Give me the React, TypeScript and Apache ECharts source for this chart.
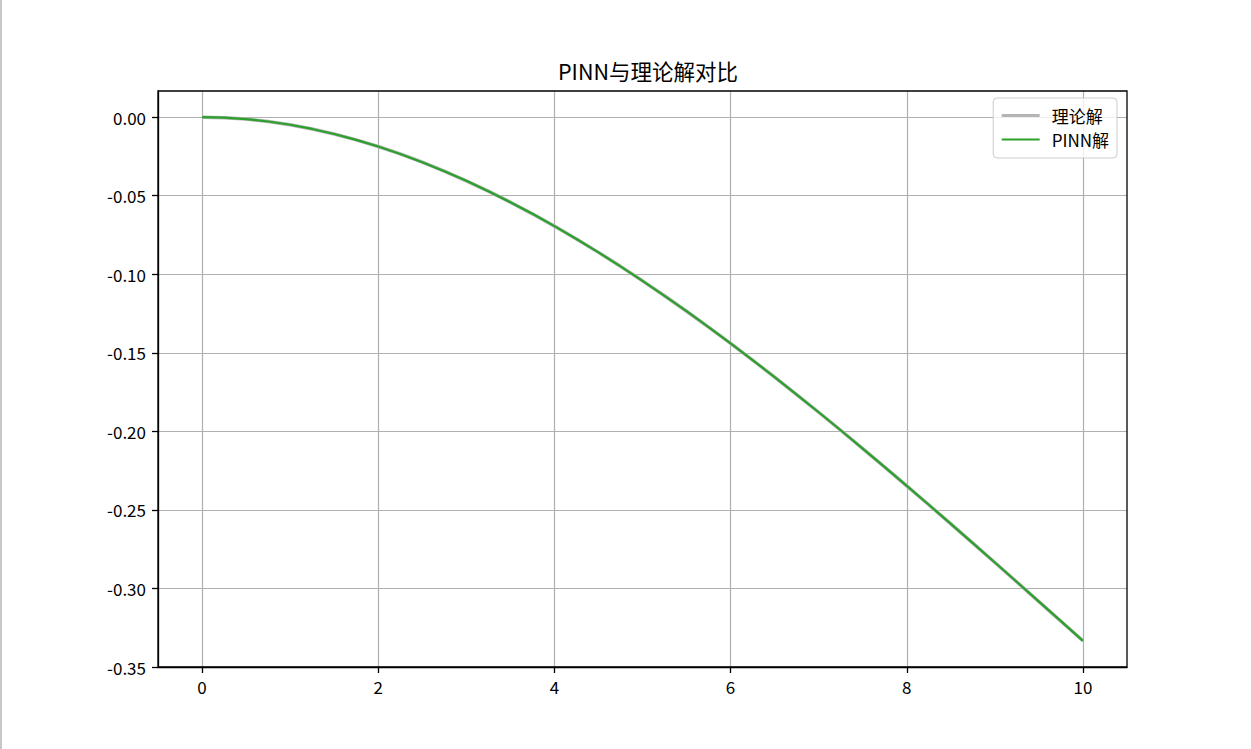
import React, { useEffect, useRef } from "react";
import * as echarts from "echarts";

const xValues = [
  0, 0.25, 0.5, 0.75, 1, 1.25, 1.5, 1.75, 2, 2.25, 2.5, 2.75, 3, 3.25, 3.5, 3.75, 4, 4.25, 4.5, 4.75,
  5, 5.25, 5.5, 5.75, 6, 6.25, 6.5, 6.75, 7, 7.25, 7.5, 7.75, 8, 8.25, 8.5, 8.75, 9, 9.25, 9.5, 9.75, 10,
];
const theoryValues = [
  0, -0.00031, -0.00123, -0.00274, -0.00483, -0.00749, -0.01069, -0.01442, -0.01867, -0.02341,
  -0.02865, -0.03435, -0.0405, -0.04709, -0.0541, -0.06152, -0.06933, -0.07752, -0.08606, -0.09495,
  -0.10417, -0.1137, -0.12352, -0.13363, -0.144, -0.15462, -0.16548, -0.17656, -0.18783, -0.1993,
  -0.21094, -0.22273, -0.23467, -0.24673, -0.2589, -0.27116, -0.2835, -0.2959, -0.30835, -0.32084, -0.33333,
];
const pinnValues = [
  0, -0.00031, -0.00123, -0.00274, -0.00483, -0.00749, -0.01069, -0.01442, -0.01867, -0.02341,
  -0.02865, -0.03435, -0.0405, -0.04709, -0.0541, -0.06152, -0.06933, -0.07752, -0.08606, -0.09495,
  -0.10417, -0.1137, -0.12352, -0.13363, -0.144, -0.15462, -0.16548, -0.17656, -0.18783, -0.1993,
  -0.21094, -0.22273, -0.23467, -0.24673, -0.2589, -0.27116, -0.2835, -0.2959, -0.30835, -0.32084, -0.33333,
];
const xTicks = [0, 2, 4, 6, 8, 10];
const yTicks = [-0.35, -0.3, -0.25, -0.2, -0.15, -0.1, -0.05, 0];
const seriesNames = ["理论解", "PINN解"];
const titleText = "PINN与理论解对比";

const FONT = "'Noto Sans CJK SC', 'Noto Sans', sans-serif";
const GRAY = "#b5b5b5";
const GREEN = "#2ca02c";

export default function App() {
  const ref = useRef<HTMLDivElement>(null);
  useEffect(() => {
    if (!ref.current) return;
    const chart = echarts.init(ref.current, null, { renderer: "svg" });
    chart.setOption({
      animation: false,
      backgroundColor: "#ffffff",
      title: {
        text: titleText,
        left: 643,
        textAlign: "center",
        top: 55,
        textStyle: { fontFamily: FONT, fontSize: 21.5, fontWeight: "normal", color: "#000" },
      },
      legend: {
        right: 134,
        top: 98,
        orient: "vertical",
        itemWidth: 38,
        itemHeight: 14,
        itemGap: 7,
        padding: [9, 8, 10, 7],
        backgroundColor: "rgba(255,255,255,0.8)",
        borderColor: "#cccccc",
        borderWidth: 1,
        borderRadius: 4,
        itemStyle: { opacity: 0 },
        textStyle: { fontFamily: FONT, fontSize: 17, color: "#000", padding: [0, 0, 0, 7] },
        data: [
          { name: seriesNames[0], lineStyle: { color: GRAY, width: 3 } },
          { name: seriesNames[1], lineStyle: { color: GREEN, width: 2.2 } },
        ],
      },
      grid: { left: 158, right: 124, top: 91, bottom: 82, containLabel: false },
      xAxis: {
        type: "value",
        min: -0.5,
        max: 10.5,
        axisLine: { show: true, onZero: false, lineStyle: { color: "#000", width: 1.3 } },
        axisTick: { show: true, inside: false, length: 6, lineStyle: { color: "#000", width: 1.3 }, customValues: xTicks },
        axisLabel: {
          customValues: xTicks,
          margin: 11,
          fontFamily: FONT,
          fontSize: 17,
          color: "#000",
          formatter: (v: number) => String(v),
        },
        splitLine: { show: true, lineStyle: { color: "#b0b0b0", width: 1.2 } },
      },
      yAxis: {
        type: "value",
        min: -0.35,
        max: 0.01667,
        axisLine: { show: true, onZero: false, lineStyle: { color: "#000", width: 1.3 } },
        axisTick: { show: true, inside: false, length: 6, lineStyle: { color: "#000", width: 1.3 }, customValues: yTicks },
        axisLabel: {
          customValues: yTicks,
          margin: 12,
          fontFamily: FONT,
          fontSize: 17,
          color: "#000",
          formatter: (v: number) => v.toFixed(2),
        },
        splitLine: { show: true, lineStyle: { color: "#b0b0b0", width: 1.2 } },
      },
      graphic: [
        {
          type: "rect",
          shape: { x: 158, y: 91, width: 969, height: 576 },
          style: { fill: "none", stroke: "#000", lineWidth: 1.3 },
          silent: true,
          z: 10,
        },
        {
          type: "line",
          shape: { x1: 1, y1: 0, x2: 1, y2: 749 },
          style: { stroke: "#c8c8c8", lineWidth: 2 },
          silent: true,
        },
      ],
      series: [
        {
          name: seriesNames[0],
          type: "line",
          data: xValues.map((x, i) => [x, theoryValues[i]]),
          symbol: "none",
          lineStyle: { color: GRAY, width: 3.5 },
          itemStyle: { color: GRAY },
        },
        {
          name: seriesNames[1],
          type: "line",
          data: xValues.map((x, i) => [x, pinnValues[i]]),
          symbol: "none",
          lineStyle: { color: GREEN, width: 2.2 },
          itemStyle: { color: GREEN },
        },
      ],
    });
    return () => chart.dispose();
  }, []);
  return (
    <div
      ref={ref}
      style={{ position: "absolute", left: 0, top: 0, width: 1251, height: 749 }}
    />
  );
}
